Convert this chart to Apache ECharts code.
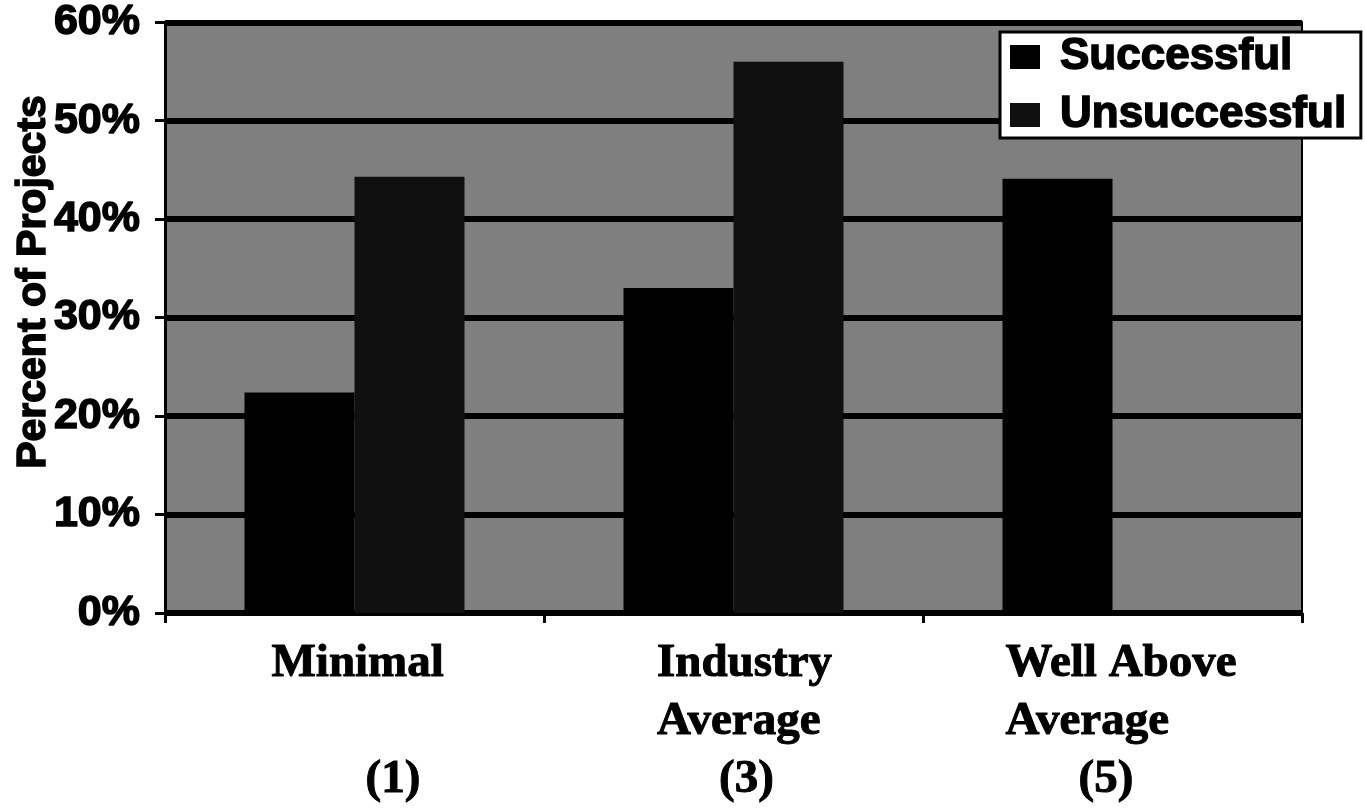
<!DOCTYPE html>
<html>
<head>
<meta charset="utf-8">
<script src="https://cdn.jsdelivr.net/npm/echarts@6/dist/echarts.min.js"></script>
<style>
  html, body { margin: 0; padding: 0; background: #fff; }
  #chart { width: 1365px; height: 810px; }
</style>
</head>
<body>
<div id="chart"></div>
<script>
// Project outcome by level of practice
const categories = ['Minimal', 'Industry\nAverage', 'Well Above\nAverage'];
const ratingCodes = ['(1)', '(3)', '(5)'];
const seriesNames = ['Successful', 'Unsuccessful'];
const successful = [22.4, 33.0, 44.1];
const unsuccessful = [44.3, 56.0, 0];
const axisTitle = 'Percent of Projects';

const SANS = "'Liberation Sans', Arial, sans-serif";
const SERIF = "'Liberation Serif', 'Times New Roman', serif";

// Each category label is a left-aligned block: name lines, then the rating code.
// w = block width, name/code = left inset of those lines inside the block.
const labelLayout = [
  { w: 180, name: 7, code: 101 },
  { w: 197, name: 22, code: 84 },
  { w: 252, name: 19, code: 92 }
];

const rich = {};
labelLayout.forEach((l, i) => {
  const base = {
    fontFamily: SERIF, fontWeight: 'bold', fontSize: 47,
    lineHeight: 58, color: '#000', align: 'left',
    textBorderColor: '#000', textBorderWidth: 1
  };
  rich['n' + i] = Object.assign({}, base, { width: l.w - l.name, padding: [0, 0, 0, l.name] });
  rich['c' + i] = Object.assign({}, base, { width: l.w - l.code, padding: [0, 0, 0, l.code] });
});

const chart = echarts.init(document.getElementById('chart'), null, { renderer: 'canvas' });

chart.setOption({
  animation: false,
  backgroundColor: '#fff',
  grid: {
    left: 165, right: 63, top: 13, bottom: 197,
    show: true, backgroundColor: '#7f7f7f',
    borderColor: '#000', borderWidth: 2
  },
  legend: {
    orient: 'vertical',
    left: 1000, top: 32,
    padding: [2, 14, 0, 10],
    itemGap: 12, itemWidth: 30, itemHeight: 24,
    icon: 'rect',
    backgroundColor: '#fff',
    borderColor: '#000', borderWidth: 3, borderRadius: 0,
    textStyle: {
      fontFamily: SANS, fontWeight: 'bold', fontSize: 44,
      color: '#000', lineHeight: 46, padding: [0, 0, 0, 15],
      textBorderColor: '#000', textBorderWidth: 1.5
    },
    data: seriesNames
  },
  xAxis: {
    type: 'category',
    data: categories,
    axisLine: { show: true, lineStyle: { color: '#000', width: 3 } },
    axisTick: { show: true, length: 10, lineStyle: { color: '#000', width: 3 } },
    axisLabel: {
      interval: 0,
      margin: 22,
      formatter: (value, index) => {
        const lines = value.split('\n');
        while (lines.length < 2) lines.push(' ');
        return lines.map(t => `{n${index}|${t}}`).join('\n') + `\n{c${index}|${ratingCodes[index]}}`;
      },
      rich: rich
    },
    splitLine: { show: false }
  },
  yAxis: {
    type: 'value',
    min: 0, max: 60, interval: 10,
    axisLine: { show: true, lineStyle: { color: '#000', width: 3 } },
    axisTick: { show: true, length: 10, lineStyle: { color: '#000', width: 3 } },
    axisLabel: {
      formatter: '{value}%',
      fontFamily: SANS, fontWeight: 'bold', fontSize: 43,
      color: '#000', margin: 25,
      textBorderColor: '#000', textBorderWidth: 1.5
    },
    splitLine: { show: true, lineStyle: { color: '#000', width: 6 } }
  },
  graphic: [{
    type: 'text',
    x: 34, y: 282,
    rotation: Math.PI / 2,
    style: {
      text: axisTitle,
      fontFamily: SANS, fontWeight: 'bold', fontSize: 41,
      fill: '#000', align: 'center', verticalAlign: 'middle',
      stroke: '#000', lineWidth: 1.5
    }
  }],
  series: [
    {
      name: seriesNames[0], type: 'bar', data: successful,
      barWidth: 110, barGap: '0%',
      itemStyle: { color: '#000' }
    },
    {
      name: seriesNames[1], type: 'bar', data: unsuccessful,
      barWidth: 110, barGap: '0%',
      itemStyle: { color: '#101010' }
    }
  ]
});
</script>
</body>
</html>
